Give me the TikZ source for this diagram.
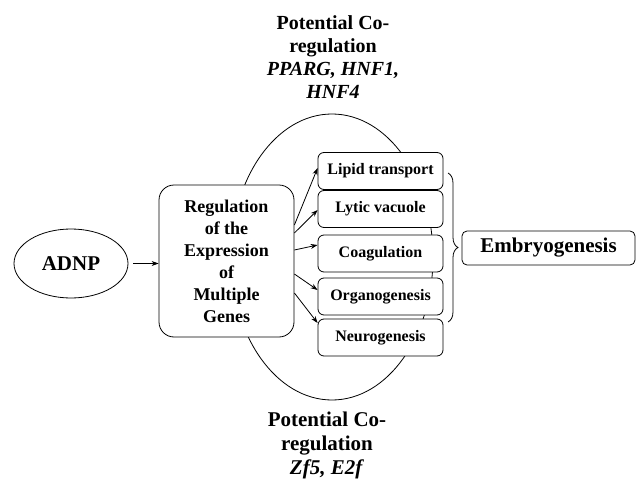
\documentclass[tikz,border=0pt]{standalone}
\usepackage{fontspec}
\setmainfont{Liberation Serif}
\usetikzlibrary{positioning}
\usetikzlibrary{shapes.geometric}
\usetikzlibrary{arrows.meta}
\usetikzlibrary{decorations.pathreplacing}

\tikzset{
  genebox/.style={rectangle,rounded corners=6pt,draw,fill=white,minimum width=125pt,minimum height=37pt,inner sep=0pt,font=\fontsize{16}{18}\selectfont\bfseries},
  regbox/.style={rectangle,rounded corners=15pt,draw,fill=white,minimum width=135pt,minimum height=152pt,inner sep=0pt,align=center,font=\fontsize{18}{22}\selectfont\bfseries},
  coreg/.style={align=center,inner sep=0pt}
}

\begin{document}
\begin{tikzpicture}[x=1pt,y=-1pt,line width=0.8pt,>={Stealth[length=7pt,width=5pt]}]
  \useasboundingbox (0,0) rectangle (638,479);

  % co-regulation loop behind the boxes
  \draw (332,257) ellipse [x radius=101, y radius=143];

  \node[ellipse,draw,minimum width=114pt,minimum height=69pt,inner sep=0pt,font=\fontsize{21}{24}\selectfont\bfseries] (adnp) at (71,263.5) {ADNP};
  \node[regbox] (reg) at (226.5,261) {Regulation\\of the\\Expression\\of\\Multiple\\Genes};

  \node[genebox] (lipid) at (380.5,171) {Lipid transport};
  \node[genebox] (lytic) at (380.5,209) {Lytic vacuole};
  \node[genebox] (coag) at (380.5,253.5) {Coagulation};
  \node[genebox] (organ) at (380.5,296.5) {Organogenesis};
  \node[genebox] (neuro) at (380.5,337.5) {Neurogenesis};

  \node[rectangle,rounded corners=5pt,draw,minimum width=173pt,minimum height=34pt,inner sep=0pt,font=\fontsize{21}{24}\selectfont\bfseries] (embryo) at (548.5,248) {Embryogenesis};

  \node[coreg,font=\fontsize{20}{23}\selectfont\bfseries] (topco) at (333,57) {Potential Co-\\regulation\\\textit{PPARG, HNF1,}\\\textit{HNF4}};
  \node[coreg,font=\fontsize{21}{24}\selectfont\bfseries] (botco) at (327,445) {Potential Co-\\regulation\\\textit{Zf5, E2f}};

  \coordinate (btop) at (448,173);
  \coordinate (bbot) at (448,322);
  \draw[decorate,decoration={brace,amplitude=10pt}] (btop) -- (bbot);

  \path[->] (adnp.east) edge[shorten <=5pt] (adnp.east -| reg.west)
  ([yshift=36pt]reg.east) edge ([yshift=3pt]lipid.west)
  ([yshift=28pt]reg.east) edge ([yshift=-1pt]lytic.west)
  ([yshift=11pt]reg.east) edge ([yshift=8.5pt]coag.west)
  ([yshift=-13pt]reg.east) edge ([yshift=6.5pt]organ.west)
  ([yshift=-32pt]reg.east) edge ([yshift=14.5pt]neuro.west);

\end{tikzpicture}
\end{document}
